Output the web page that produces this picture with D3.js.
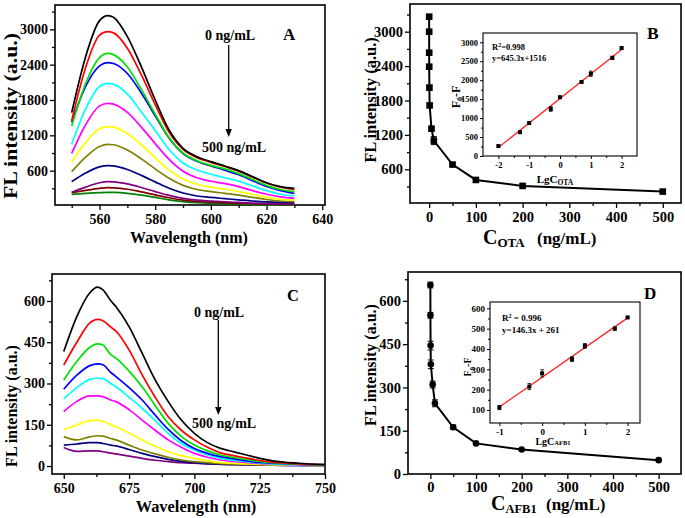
<!DOCTYPE html>
<html><head><meta charset="utf-8">
<script src="https://cdn.jsdelivr.net/npm/d3@7"></script>
<style>
body{margin:0;background:#fff;}
svg{display:block;font-family:"Liberation Serif","Times New Roman",serif;font-weight:bold;}
</style></head><body>
<svg id="chart" width="685" height="518"></svg>
<script>
// ---------- DATA ----------
const wavelengthA = [550,555,560,563,565,570,575,580,585,590,595,600,605,610,615,620,625,630];
const spectraA = [
  [1585,2536,3147,3232,3204,2875,2366,1800,1290,979,838,753,679,600,498,396,328,300],
  [1449,2350,2900,2960,2940,2680,2230,1720,1250,960,820,740,670,590,490,390,320,283],
  [1358,2080,2520,2592,2570,2360,1980,1560,1160,900,770,690,630,550,450,350,280,243],
  [1420,2030,2380,2434,2420,2250,1920,1530,1150,890,760,680,610,530,430,330,260,215],
  [1047,1650,2030,2083,2070,1900,1600,1280,960,730,610,540,480,420,340,260,200,170],
  [894,1380,1700,1743,1730,1590,1340,1060,790,590,480,420,380,330,260,200,155,130],
  [741,1080,1310,1347,1340,1230,1040,820,610,460,370,320,285,245,195,150,115,102],
  [583,830,1010,1047,1040,950,800,630,470,350,280,245,215,185,145,110,85,74],
  [413,560,665,685,680,620,520,410,300,220,170,145,125,105,85,70,60,57],
  [232,320,395,413,410,375,315,245,180,130,100,85,72,60,48,40,35,34],
  [226,265,300,311,308,285,240,190,140,100,78,65,55,45,38,32,29,28],
  [198,215,228,232,230,215,185,145,105,75,55,45,38,30,25,20,18,17]
];
const colorsA = ['#000000','#ff0000','#00e000','#0000ff','#00ffff','#ff00ff','#ffff00','#808000','#000080','#800080','#800000','#008000'];

const wavelengthC = [650,655,660,663,665,668,670,675,680,685,690,695,700,705,710,715,720,725,730,740,750];
const spectraC = [
  [416,543,630,650,640,601,579,507,410,313,234,167,119,85,64,52,40,28,19,10,5],
  [367,450,520,533,528,505,490,422,331,250,179,130,95,68,48,38,29,20,14,8,5],
  [313,380,432,444,440,405,392,345,288,220,155,108,76,55,40,31,24,17,12,7,4],
  [279,330,365,371,368,340,325,285,240,185,133,92,64,46,34,26,19,13,10,6,4],
  [244,285,315,319,318,300,288,250,210,165,119,82,58,40,28,21,16,11,8,5,4],
  [198,235,255,255,252,240,234,205,167,130,95,68,46,32,22,17,13,9,7,4,3],
  [133,149,165,167,162,150,143,120,95,72,52,38,28,19,12,10,8,6,5,3,3],
  [107,95,106,110,109,100,95,76,58,44,32,22,16,12,9,7,6,5,4,3,2],
  [76,80,85,85,82,76,73,60,46,34,24,17,12,9,7,6,5,4,3,2,2],
  [67,53,55,55,52,47,44,36,28,21,16,12,10,8,6,5,4,3,3,2,2]
];
const colorsC = ['#000000','#ff0000','#00e000','#0000ff','#00ffff','#ff00ff','#ffff00','#808000','#000080','#800080'];

const concOTA = [0,0.01,0.05,0.1,0.5,1,5,10,50,100,200,500];
const flOTA   = [3262,3000,2634,2390,2024,1714,1309,1100,682,414,310,211];
const errOTA  = [15,20,20,20,40,30,25,70,25,15,10,10];
const lgOTA   = [-2,-1.3,-1,-0.3,0,0.7,1,1.7,2];
const dFOTA   = [262,628,870,1240,1550,1953,2170,2590,2848];
const dErrOTA = [20,20,20,60,30,25,70,40,20];
const fitOTAx = [-2,2];
const fitOTAy = [225,2807];

const concAFB = [0,0.1,0.5,1,5,10,50,100,200,500];
const flAFB   = [655,550,445,380,310,245,162,106,85,48];
const errAFB  = [10,10,15,15,12,12,8,4,3,3];
const lgAFB   = [-1,-0.3,0,0.7,1,1.7,2];
const dFAFB   = [112,215,280,350,415,500,555];
const dErrAFB = [10,15,18,12,12,8,5];
const fitAFBx = [-1,2];
const fitAFBy = [115,553];

// ---------- DRAW ----------
const svg = d3.select('#chart');

function panel(c) {
  const x = d3.scaleLinear().domain(c.xd).range([c.l, c.r]);
  const y = d3.scaleLinear().domain(c.yd).range([c.b, c.t]);
  const g = svg.append('g');
  const fmt = d => String(d);
  const ax = g.append('g').attr('transform', `translate(0,${c.b})`)
    .call(d3.axisBottom(x).tickValues(c.xMaj).tickSize(c.tk).tickSizeOuter(0).tickPadding(c.xpad).tickFormat(fmt));
  const axm = g.append('g').attr('transform', `translate(0,${c.b})`)
    .call(d3.axisBottom(x).tickValues(c.xMin).tickSize(c.tkm).tickSizeOuter(0).tickFormat(''));
  const ay = g.append('g').attr('transform', `translate(${c.l},0)`)
    .call(d3.axisLeft(y).tickValues(c.yMaj).tickSize(c.tk).tickSizeOuter(0).tickPadding(c.ypad).tickFormat(fmt));
  const aym = g.append('g').attr('transform', `translate(${c.l},0)`)
    .call(d3.axisLeft(y).tickValues(c.yMin).tickSize(c.tkm).tickSizeOuter(0).tickFormat(''));
  [ax, axm, ay, aym].forEach(a => {
    a.select('.domain').remove();
    a.selectAll('line').attr('stroke', '#000').attr('stroke-width', c.tw);
    a.selectAll('text').attr('fill', '#000').style('font-size', c.fs + 'px')
      .style('font-family', '"Liberation Serif","Times New Roman",serif').style('font-weight', 'bold');
  });
  g.append('rect').attr('x', c.l).attr('y', c.t).attr('width', c.r - c.l).attr('height', c.b - c.t)
    .attr('fill', 'none').attr('stroke', '#000').attr('stroke-width', c.fw);
  return {g, x, y};
}

function arrow(x, y1, y2) {
  svg.append('line').attr('x1', x).attr('x2', x).attr('y1', y1).attr('y2', y2 - 6)
    .attr('stroke', '#000').attr('stroke-width', 1.3);
  svg.append('path').attr('d', `M${x-3.2},${y2-8} L${x+3.2},${y2-8} L${x},${y2} Z`).attr('fill', '#000');
}

function txt(x, y, s, fs, anchor) {
  return svg.append('text').attr('x', x).attr('y', y).attr('font-size', fs)
    .attr('text-anchor', anchor || 'start').attr('fill', '#000').text(s);
}

function errorBars(g, xs, ys, es, x, y, cap, sw) {
  xs.forEach((v, i) => {
    const px = x(v);
    g.append('line').attr('x1', px).attr('x2', px).attr('y1', y(ys[i] - es[i])).attr('y2', y(ys[i] + es[i]))
      .attr('stroke', '#000').attr('stroke-width', sw);
    [ys[i] - es[i], ys[i] + es[i]].forEach(e => {
      g.append('line').attr('x1', px - cap).attr('x2', px + cap).attr('y1', y(e)).attr('y2', y(e))
        .attr('stroke', '#000').attr('stroke-width', sw);
    });
  });
}

// ----- Panel A -----
{
  const p = panel({l:55, r:325, t:5, b:205, xd:[544,641], yd:[17,3413],
    xMaj:[560,580,600,620,640], xMin:[550,570,590,610,630],
    yMaj:[600,1200,1800,2400,3000], yMin:[300,900,1500,2100,2700,3300],
    tk:5, tkm:3, xpad:4, ypad:2, fs:14, tw:1.3, fw:1.6});
  const line = d3.line().x((d, i) => p.x(wavelengthA[i])).y(d => p.y(d)).curve(d3.curveMonotoneX);
  spectraA.slice().reverse().forEach((s, k) => {
    const i = spectraA.length - 1 - k;
    p.g.append('path').attr('d', line(s)).attr('fill', 'none').attr('stroke', colorsA[i]).attr('stroke-width', 1.7);
  });
  svg.append('text').attr('transform', 'translate(17,116) rotate(-90)').attr('text-anchor', 'middle')
    .attr('font-size', 18).attr('textLength', 166).attr('lengthAdjust', 'spacingAndGlyphs').text('FL intensity (a.u.)');
  txt(189, 243, 'Wavelength (nm)', 16, 'middle');
  txt(283, 40, 'A', 17);
  txt(205, 40, '0 ng/mL', 14);
  arrow(228.7, 45, 137);
  txt(202, 152, '500 ng/mL', 14);
}

// ----- Panel B -----
{
  const p = panel({l:410, r:681, t:4, b:203, xd:[-41,539], yd:[12,3483],
    xMaj:[0,100,200,300,400,500], xMin:[50,150,250,350,450],
    yMaj:[600,1200,1800,2400,3000], yMin:[300,900,1500,2100,2700,3300],
    tk:5, tkm:3, xpad:4, ypad:2, fs:14.5, tw:1.3, fw:1.6});
  const line = d3.line().x((d, i) => p.x(concOTA[i])).y(d => p.y(d));
  p.g.append('path').attr('d', line(flOTA)).attr('fill', 'none').attr('stroke', '#000').attr('stroke-width', 2);
  errorBars(p.g, concOTA, flOTA, errOTA, p.x, p.y, 3, 1);
  p.g.selectAll('rect.pt').data(flOTA).join('rect').attr('class', 'pt')
    .attr('x', (d, i) => p.x(concOTA[i]) - 3.3).attr('y', d => p.y(d) - 3.3)
    .attr('width', 6.6).attr('height', 6.6).attr('fill', '#000');
  svg.append('text').attr('transform', 'translate(376,100) rotate(-90)').attr('text-anchor', 'middle')
    .attr('font-size', 16.5).text('FL intensity (a.u.)');
  const t = txt(483, 244, '', 20);
  t.append('tspan').text('C');
  t.append('tspan').attr('font-size', 13).attr('dy', 3).text('OTA');
  t.append('tspan').attr('dy', -3).attr('x', 537).attr('font-size', 17).text('(ng/mL)');
  txt(647, 38.5, 'B', 17.5);

  // inset
  const q = panel({l:483, r:637, t:33, b:156, xd:[-2.5,2.5], yd:[0,3245],
    xMaj:[-2,-1,0,1,2], xMin:[-1.5,-0.5,0.5,1.5],
    yMaj:[0,500,1000,1500,2000,2500,3000], yMin:[250,750,1250,1750,2250,2750],
    tk:3, tkm:2, xpad:3, ypad:2, fs:8.5, tw:1, fw:1.1});
  q.g.append('line').attr('x1', q.x(fitOTAx[0])).attr('x2', q.x(fitOTAx[1]))
    .attr('y1', q.y(fitOTAy[0])).attr('y2', q.y(fitOTAy[1])).attr('stroke', '#ff2020').attr('stroke-width', 1.3);
  errorBars(q.g, lgOTA, dFOTA, dErrOTA, q.x, q.y, 1.8, 0.8);
  q.g.selectAll('rect.pt').data(dFOTA).join('rect').attr('class', 'pt')
    .attr('x', (d, i) => q.x(lgOTA[i]) - 2).attr('y', d => q.y(d) - 2)
    .attr('width', 4).attr('height', 4).attr('fill', '#000');
  const r2 = txt(492, 49.5, '', 8.5);
  r2.append('tspan').text('R');
  r2.append('tspan').attr('font-size', 6).attr('dy', -3).text('2');
  r2.append('tspan').attr('dy', 3).text('=0.998');
  txt(492, 60.5, 'y=645.3x+1516', 8.5);
  const fy = svg.append('text').attr('transform', 'translate(460,97) rotate(-90)').attr('text-anchor', 'middle').attr('font-size', 12);
  fy.append('tspan').text('F');
  fy.append('tspan').attr('font-size', 8).attr('dy', 3).text('0');
  fy.append('tspan').attr('dy', -3).text('-F');
  const lx = txt(555, 182.5, '', 11, 'middle');
  lx.append('tspan').text('LgC');
  lx.append('tspan').attr('font-size', 7.5).attr('dy', 2.5).text('OTA');
}

// ----- Panel C -----
{
  const p = panel({l:52, r:325, t:274, b:474, xd:[645.5,750], yd:[-29,698],
    xMaj:[650,675,700,725,750], xMin:[662.5,687.5,712.5,737.5],
    yMaj:[0,150,300,450,600], yMin:[75,225,375,525,675],
    tk:5, tkm:3, xpad:4, ypad:2, fs:14, tw:1.3, fw:1.6});
  const line = d3.line().x((d, i) => p.x(wavelengthC[i])).y(d => p.y(d)).curve(d3.curveMonotoneX);
  spectraC.slice().reverse().forEach((s, k) => {
    const i = spectraC.length - 1 - k;
    p.g.append('path').attr('d', line(s)).attr('fill', 'none').attr('stroke', colorsC[i]).attr('stroke-width', 1.7);
  });
  svg.append('text').attr('transform', 'translate(17,406) rotate(-90)').attr('text-anchor', 'middle')
    .attr('font-size', 16).text('FL intensity (a.u.)');
  txt(196, 512, 'Wavelength (nm)', 16.4, 'middle');
  txt(287, 300.5, 'C', 16.5);
  txt(194, 316.5, '0 ng/mL', 14);
  arrow(218.3, 320, 415);
  txt(192, 428, '500 ng/mL', 14);
}

// ----- Panel D -----
{
  const p = panel({l:408, r:681, t:272, b:474, xd:[-49,549], yd:[0,700],
    xMaj:[0,100,200,300,400,500], xMin:[50,150,250,350,450],
    yMaj:[0,150,300,450,600], yMin:[75,225,375,525,675],
    tk:5, tkm:3, xpad:3, ypad:2, fs:14.5, tw:1.3, fw:1.6});
  const line = d3.line().x((d, i) => p.x(concAFB[i])).y(d => p.y(d));
  p.g.append('path').attr('d', line(flAFB)).attr('fill', 'none').attr('stroke', '#000').attr('stroke-width', 2);
  errorBars(p.g, concAFB, flAFB, errAFB, p.x, p.y, 3, 1);
  p.g.selectAll('circle.pt').data(flAFB).join('circle').attr('class', 'pt')
    .attr('cx', (d, i) => p.x(concAFB[i])).attr('cy', d => p.y(d)).attr('r', 3.3).attr('fill', '#000');
  svg.append('text').attr('transform', 'translate(376,365) rotate(-90)').attr('text-anchor', 'middle')
    .attr('font-size', 16).text('FL intensity (a.u.)');
  const t = txt(491, 510, '', 20);
  t.append('tspan').text('C');
  t.append('tspan').attr('font-size', 12.5).attr('dy', 3).text('AFB1');
  t.append('tspan').attr('dy', -3).attr('x', 546).attr('font-size', 17).text('(ng/mL)');
  txt(644, 298.5, 'D', 17);

  // inset
  const q = panel({l:490, r:640, t:302, b:423, xd:[-1.22,2.29], yd:[36,631],
    xMaj:[-1,0,1,2], xMin:[-0.5,0.5,1.5],
    yMaj:[100,200,300,400,500,600], yMin:[150,250,350,450,550],
    tk:3, tkm:2, xpad:3, ypad:2, fs:9, tw:1, fw:1.1});
  q.g.append('line').attr('x1', q.x(fitAFBx[0])).attr('x2', q.x(fitAFBx[1]))
    .attr('y1', q.y(fitAFBy[0])).attr('y2', q.y(fitAFBy[1])).attr('stroke', '#ff2020').attr('stroke-width', 1.3);
  errorBars(q.g, lgAFB, dFAFB, dErrAFB, q.x, q.y, 1.8, 0.8);
  q.g.selectAll('rect.pt').data(dFAFB).join('rect').attr('class', 'pt')
    .attr('x', (d, i) => q.x(lgAFB[i]) - 2).attr('y', d => q.y(d) - 2)
    .attr('width', 4).attr('height', 4).attr('fill', '#000');
  const r2 = txt(502, 320.5, '', 9);
  r2.append('tspan').text('R');
  r2.append('tspan').attr('font-size', 6).attr('dy', -3).text('2');
  r2.append('tspan').attr('dy', 3).text(' = 0.996');
  txt(502, 333, 'y=146.3x + 261', 9);
  const fy = svg.append('text').attr('transform', 'translate(471,367) rotate(-90)').attr('text-anchor', 'middle').attr('font-size', 10);
  fy.append('tspan').text('F');
  fy.append('tspan').attr('font-size', 7).attr('dy', 2.5).text('0');
  fy.append('tspan').attr('dy', -2.5).text('-F');
  const lx = txt(553, 445, '', 10, 'middle');
  lx.append('tspan').text('LgC');
  lx.append('tspan').attr('font-size', 6.5).text('AFB1');
}
</script></body></html>
